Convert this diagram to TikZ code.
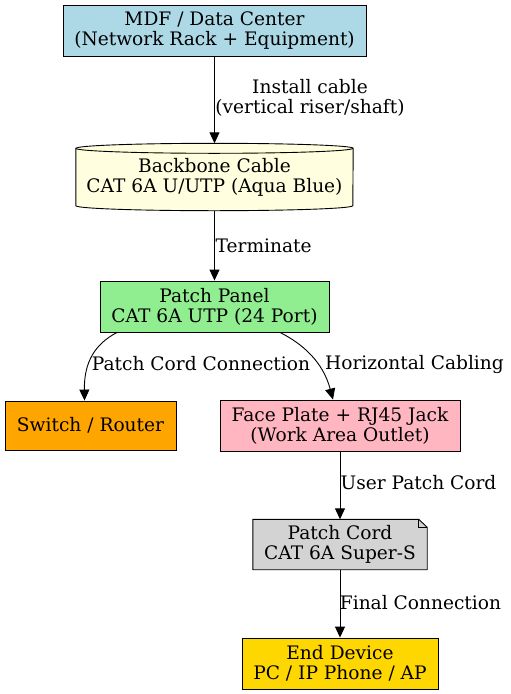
\documentclass[tikz,border=0pt]{standalone}
\usepackage{fontspec}
\setmainfont{DejaVu Serif}
\usetikzlibrary{arrows.meta}
\definecolor{cLightBlue}{HTML}{ADD8E6}
\definecolor{cLightYellow}{HTML}{FFFFE0}
\definecolor{cLightGreen}{HTML}{90EE90}
\definecolor{cOrange}{HTML}{FFA500}
\definecolor{cPink}{HTML}{FFB6C1}
\definecolor{cGrey}{HTML}{D3D3D3}
\definecolor{cGold}{HTML}{FFD700}
\tikzset{
  every node/.style={font=\fontsize{18.6}{20}\selectfont, align=center, inner sep=0pt},
  box/.style={draw=black, line width=0.9pt, rectangle},
  edge/.style={draw=black, line width=0.9pt, -{Triangle[length=11pt,width=10pt]}},
}
\begin{document}
\begin{tikzpicture}[x=1pt,y=-1pt]
\useasboundingbox (0,0) rectangle (511,694);
% nodes
\node[box, fill=cLightBlue, minimum width=303pt, minimum height=51pt] (mdf) at (214.5,30.5) {MDF / Data Center\\(Network Rack + Equipment)};
\node[minimum width=277pt, minimum height=67pt] (bb) at (214.5,177) {};
\draw[line width=0.9pt, fill=cLightYellow]
  ([yshift=-5pt]bb.north west) -- ([yshift=5pt]bb.south west)
  arc[start angle=180, end angle=360, x radius=138.5pt, y radius=5pt]
  -- ([yshift=-5pt]bb.north east)
  arc[start angle=0, end angle=180, x radius=138.5pt, y radius=5pt] -- cycle;
\draw[line width=0.9pt] ([yshift=-5pt]bb.north west)
  arc[start angle=180, end angle=360, x radius=138.5pt, y radius=5pt];
\node at (bb.center) {Backbone Cable\\CAT 6A U/UTP (Aqua Blue)};
\node[box, fill=cLightGreen, minimum width=229pt, minimum height=51pt] (pp) at (214.5,306.5) {Patch Panel\\CAT 6A UTP (24 Port)};
\node[box, fill=cOrange, minimum width=171pt, minimum height=49pt] (sw) at (90.5,425.5) {Switch / Router};
\node[box, fill=cPink, minimum width=240pt, minimum height=51pt] (fp) at (340,425.5) {Face Plate + RJ45 Jack\\(Work Area Outlet)};
\node[minimum width=174pt, minimum height=50pt] (pc) at (340,544.5) {};
\draw[line width=0.9pt, fill=cGrey]
  (pc.north west) -- ([xshift=-8.5pt]pc.north east) -- ([yshift=-8pt]pc.north east)
  -- (pc.south east) -- (pc.south west) -- cycle;
\draw[line width=0.7pt] ([xshift=-8.5pt]pc.north east) -- ([xshift=-8.5pt,yshift=-8pt]pc.north east) -- ([yshift=-8pt]pc.north east);
\node at (pc.center) {Patch Cord\\CAT 6A Super-S};
\node[box, fill=cGold, minimum width=196pt, minimum height=51pt] (ed) at (340,663.5) {End Device\\PC / IP Phone / AP};
% edges
\draw[edge] (mdf.south) -- (bb.north);
\node (l1) at (310,97.5) {Install cable\\(vertical riser/shaft)};
\draw[edge] (bb.south) -- (pp.north);
\node[anchor=west] (l2) at (215.5,246) {Terminate};
\draw[edge] ([xshift=-97.5pt]pp.south) .. controls (95,344) and (84,362) .. ([xshift=-6pt]sw.north);
\node (l3) at (201,364) {Patch Cord Connection};
\draw[edge] ([xshift=65.5pt]pp.south) .. controls (303,344) and (323,362) .. ([xshift=-7pt]fp.north);
\node (l4) at (414.5,364) {Horizontal Cabling};
\draw[edge] (fp.south) -- (pc.north);
\node (l5) at (418.5,483) {User Patch Cord};
\draw[edge] (pc.south) -- (ed.north);
\node (l6) at (420.5,603) {Final Connection};
\end{tikzpicture}
\end{document}
